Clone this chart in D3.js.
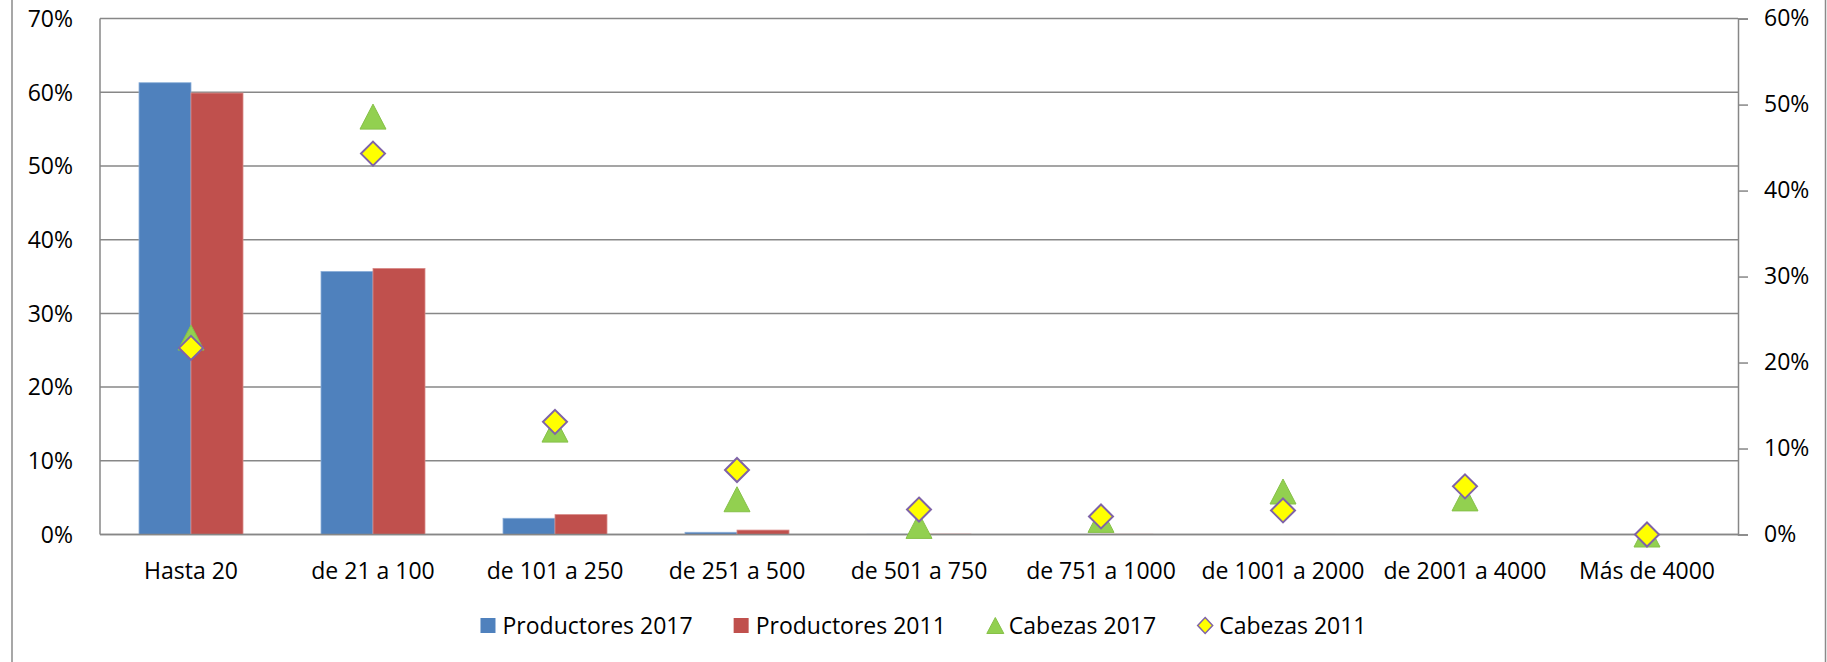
<!DOCTYPE html>
<html><head><meta charset="utf-8">
<script src="https://cdn.jsdelivr.net/npm/d3@7"></script>
<style>
body{margin:0;background:#fff}
text{font-family:"Open Sans",Lato,sans-serif;fill:#000}
</style>
</head><body>
<svg id="c" width="1827" height="662"></svg>
<script>
// ---- data ----
const categories = ["Hasta 20","de 21 a 100","de 101 a 250","de 251 a 500","de 501 a 750","de 751 a 1000","de 1001 a 2000","de 2001 a 4000","Más de 4000"];
const productores2017 = [61.3, 35.7, 2.2, 0.3, 0.03, 0.02, 0.01, 0.01, 0];
const productores2011 = [59.9, 36.1, 2.7, 0.6, 0.05, 0.03, 0.02, 0.01, 0];
const cabezas2017 = [22.9, 48.6, 12.2, 4.1, 1.0, 1.7, 5.0, 4.2, 0.0];
const cabezas2011 = [21.7, 44.3, 13.1, 7.5, 2.9, 2.1, 2.8, 5.6, 0.0];
const leftTicks = [0, 10, 20, 30, 40, 50, 60, 70];
const rightTicks = [0, 10, 20, 30, 40, 50, 60];
const seriesNames = ["Productores 2017", "Productores 2011", "Cabezas 2017", "Cabezas 2011"];

// ---- layout ----
const W = 1827, H = 662;
const L = 100, R = 1738, T = 18.6, B = 534.5;
const FS = 23;
const FF = "'Open Sans',Lato,sans-serif";
const blue = "#4F81BD", red = "#C0504D", green = "#92D050", yellow = "#FFFF00", purple = "#7F63A8", grid = "#878787";

const svg = d3.select("#c");
svg.append("rect").attr("width", W).attr("height", H).attr("fill", "#fff");
// outer frame
svg.append("line").attr("x1", 12).attr("x2", 12).attr("y1", 0).attr("y2", H).attr("stroke", "#8a8a8a").attr("stroke-width", 1.5);
svg.append("line").attr("x1", 1825.5).attr("x2", 1825.5).attr("y1", 0).attr("y2", H).attr("stroke", "#8a8a8a").attr("stroke-width", 1.5);

const x0 = d3.scaleBand().domain(categories).range([L, R]).paddingInner(78/182).paddingOuter(39/182);
const x1 = d3.scaleBand().domain(["p17","p11"]).range([0, x0.bandwidth()]);
const yL = d3.scaleLinear().domain([0, 70]).range([B, T]);
const yR = d3.scaleLinear().domain([0, 60]).range([B, T]);

// gridlines
svg.append("g").selectAll("line").data(leftTicks).join("line")
  .attr("x1", L).attr("x2", R).attr("y1", d => yL(d)).attr("y2", d => yL(d))
  .attr("stroke", grid).attr("stroke-width", 1.5);
// left axis line
svg.append("line").attr("x1", L).attr("x2", L).attr("y1", T).attr("y2", B).attr("stroke", grid).attr("stroke-width", 1.5);

// left axis labels
svg.append("g").selectAll("text").data(leftTicks).join("text")
  .attr("x", 73).attr("y", d => yL(d)).attr("dy", "0.36em")
  .attr("text-anchor", "end").attr("font-size", FS).text(d => d + "%");

// right axis
const rAxis = d3.axisRight(yR).tickValues(rightTicks).tickSize(10).tickPadding(16).tickFormat(d => d + "%");
const rg = svg.append("g").attr("transform", `translate(${R},0)`).call(rAxis);
rg.select(".domain").attr("stroke", grid).attr("stroke-width", 1.5);
rg.selectAll(".tick line").attr("stroke", grid).attr("stroke-width", 1.5);
rg.selectAll(".tick text").attr("font-size", FS).attr("font-family", FF).attr("fill", "#000");

// bars
const bars = svg.append("g");
categories.forEach((c, i) => {
  bars.append("rect").attr("x", x0(c) + x1("p17")).attr("width", x1.bandwidth())
    .attr("y", yL(productores2017[i])).attr("height", B - yL(productores2017[i]))
    .attr("fill", blue).attr("stroke", "#8DB0DA").attr("stroke-width", 0.8);
  bars.append("rect").attr("x", x0(c) + x1("p11")).attr("width", x1.bandwidth())
    .attr("y", yL(productores2011[i])).attr("height", B - yL(productores2011[i]))
    .attr("fill", red).attr("stroke", "#D98A88").attr("stroke-width", 0.8);
});
// bottom axis line over bars
svg.append("line").attr("x1", L).attr("x2", R).attr("y1", B).attr("y2", B).attr("stroke", grid).attr("stroke-width", 1.5);

// markers
const tri = (w, h) => `M0,${-h/2}L${w/2},${h/2}L${-w/2},${h/2}Z`;
const dia = (w, h) => `M0,${-h/2}L${w/2},0L0,${h/2}L${-w/2},0Z`;
const cx = c => x0(c) + x0.bandwidth() / 2;

svg.append("g").selectAll("path").data(categories).join("path")
  .attr("d", tri(26, 25))
  .attr("transform", (c, i) => `translate(${cx(c)},${yR(cabezas2017[i])})`)
  .attr("fill", green).attr("stroke", "#86C048").attr("stroke-width", 1);

svg.append("g").selectAll("path").data(categories).join("path")
  .attr("d", dia(24, 24))
  .attr("transform", (c, i) => `translate(${cx(c)},${yR(cabezas2011[i])})`)
  .attr("fill", yellow).attr("stroke", purple).attr("stroke-width", 2);

// x labels
svg.append("g").selectAll("text").data(categories).join("text")
  .attr("x", c => cx(c)).attr("y", 579).attr("text-anchor", "middle")
  .attr("font-size", FS).text(c => c);

// legend
const lg = svg.append("g");
const symbols = [
  g => g.append("rect").attr("x", 0).attr("y", -7.5).attr("width", 15).attr("height", 15).attr("fill", blue),
  g => g.append("rect").attr("x", 0).attr("y", -7.5).attr("width", 15).attr("height", 15).attr("fill", red),
  g => g.append("path").attr("d", tri(17, 16)).attr("transform", "translate(8.5,0)").attr("fill", green).attr("stroke", "#86C048"),
  g => g.append("path").attr("d", dia(15, 16)).attr("transform", "translate(8,0)").attr("fill", yellow).attr("stroke", purple).attr("stroke-width", 1.5)
];
let xpos = 0;
seriesNames.forEach((name, i) => {
  const g = lg.append("g").attr("transform", `translate(${xpos},0)`);
  symbols[i](g);
  const t = g.append("text").attr("x", 22).attr("y", 0).attr("dy", "0.36em").attr("font-size", FS).text(name);
  const w = t.node().getComputedTextLength();
  xpos += 22 + w + 41;
});
const totalW = xpos - 41;
lg.attr("transform", `translate(${923.5 - totalW / 2},625.5)`);
</script>
</body></html>
